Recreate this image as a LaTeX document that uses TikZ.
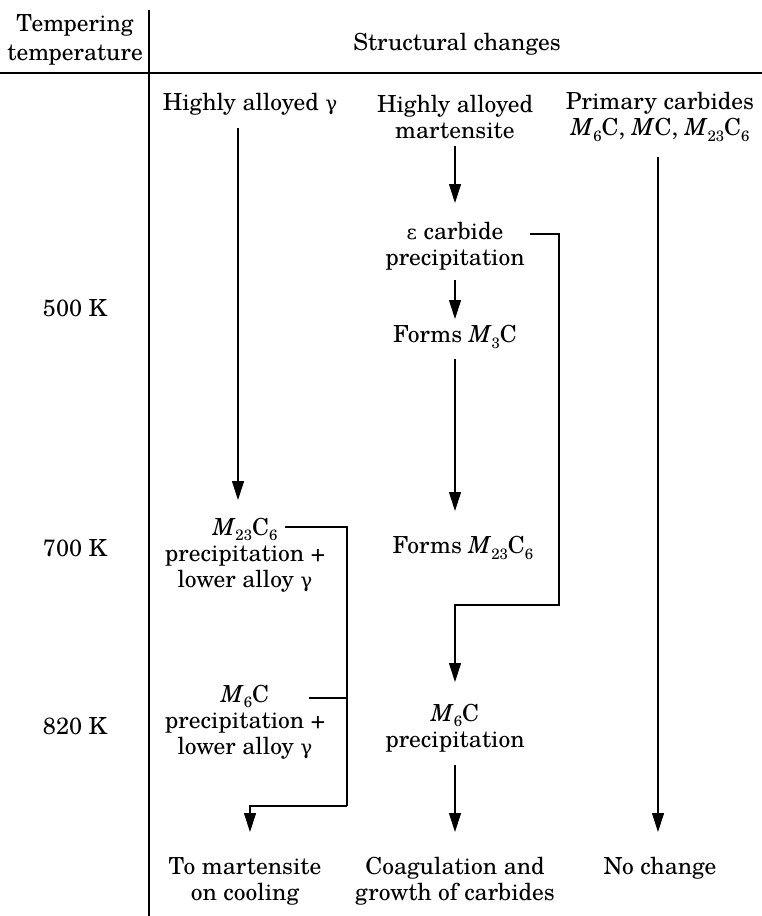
\documentclass[tikz,border=0pt]{standalone}
\usepackage{fontspec}
\setmainfont{TeX Gyre Schola}
\newfontfamily\gkfont{DejaVu Serif}
\usetikzlibrary{arrows.meta}
\newcommand{\gam}{{\gkfont\fontsize{20}{26}\selectfont γ}}
\newcommand{\epsl}{{\gkfont\fontsize{20}{26}\selectfont ε}}
\newcommand{\sbs}[1]{\raisebox{-5.5pt}{\fontsize{15}{15}\selectfont #1}}
\newcommand{\mc}[2]{\textit{M}\sbs{#1}C\sbs{#2}}
\tikzset{
  txt/.style={align=center, inner sep=0pt, font=\fontsize{23.5}{26}\selectfont},
  hdr/.style={align=center, inner sep=0pt, font=\fontsize{23.5}{29}\selectfont},
  arr/.style={line width=1.1pt, -{Triangle[length=19pt,width=12pt]}},
  ln/.style={line width=1.1pt}
}
\begin{document}
\begin{tikzpicture}[x=1pt,y=-1pt]
\useasboundingbox (0,0) rectangle (762,916);
% frame
\draw[ln] (149,10) -- (149,916);
\draw[ln] (0,73) -- (762,73);
% headers
\node[hdr] (hT) at (75,40) {Tempering\\temperature};
\node[txt] (hS) at (457,44) {Structural changes};
% temperatures
\node[txt] (t500) at (75,308) {500 K};
\node[txt] (t700) at (75,548) {700 K};
\node[txt] (t820) at (75,726) {820 K};
% column 1
\node[txt] (a1) at (250,104) {Highly alloyed \gam};
\node[txt] (a2) at (245,555) {\mc{23}{6}\\precipitation +\\lower alloy \gam};
\node[txt] (a3) at (245,722) {\mc{6}{}\\precipitation +\\lower alloy \gam};
\node[txt] (a4) at (245,881) {To martensite\\on cooling};
% column 2
\node[txt] (b1) at (455,117) {Highly alloyed\\martensite};
\node[txt] (b2) at (455,246) {\epsl\ carbide\\precipitation};
\node[txt] (b3) at (455,337) {Forms \mc{3}{}};
\node[txt] (b4) at (463,548) {Forms \mc{23}{6}};
\node[txt] (b5) at (455,728) {\mc{6}{}\\precipitation};
\node[txt] (b6) at (455,881) {Coagulation and\\growth of carbides};
% column 3
\node[txt] (c1) at (660,117) {Primary carbides\\\mc{6}{}, \textit{M}C, \mc{23}{6}};
\node[txt] (c2) at (660,868) {No change};
% connectors column 1
\draw[arr] (a1.south -| 238,0) ++(0,13) -- (238,500);
\coordinate (k1) at (347,527);
\coordinate (k2) at (347,806);
\draw[ln] (285,527) -- (k1) -- (k2);
\draw[arr] (k2) -- (250,806) -- (250,832);
\draw[ln] (309,698) -- (347,698);
% connectors column 2
\draw[arr] (455,146) -- (455,203);
\draw[arr] (455,280) -- (455,319);
\draw[arr] (455,359) -- (455,511);
\coordinate (k3) at (559,234);
\coordinate (k4) at (559,605);
\draw[arr] (530,234) -- (k3) -- (k4) -- (455,605) -- (455,682);
\draw[arr] (455,765) -- (455,832);
% column 3
\draw[arr] (658,157) -- (658,832);
\end{tikzpicture}
\end{document}
